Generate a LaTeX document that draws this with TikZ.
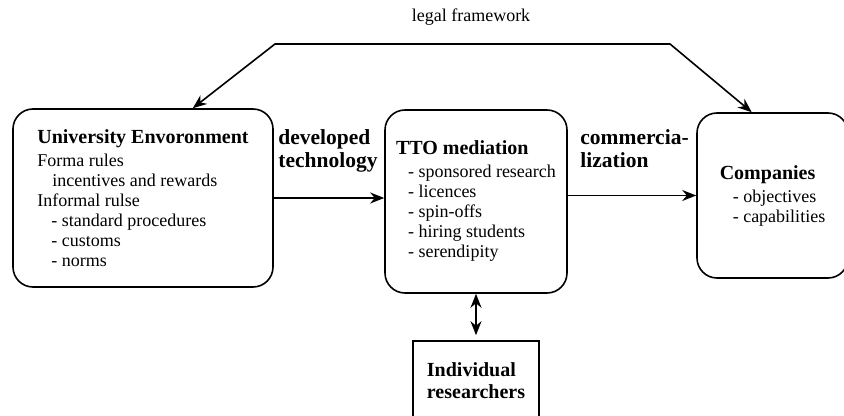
\documentclass[tikz,border=0pt]{standalone}
\usepackage{fontspec}
\setmainfont{Liberation Serif}
\usepackage{tikz}
\usetikzlibrary{arrows.meta}
\tikzstyle{box} = [rectangle, rounded corners=10pt, draw=black, thick, align=left, inner sep=0pt, font=\fontsize{9}{10}\selectfont]
\tikzstyle{arrow} = [thick,->,>={Stealth[length=7pt,width=5.5pt]}]
\tikzstyle{flowlabel} = [anchor=west, align=left, inner sep=0pt, font=\bfseries\fontsize{10.75}{11.5}\selectfont]
\newcommand{\boxtitle}[1]{\textbf{\fontsize{10}{10}\selectfont #1}}

\begin{document}
\begin{tikzpicture}[x=0.5pt, y=-0.5pt]
\useasboundingbox (0,0) rectangle (844,416);

% Nodes
\node (uni) [box, minimum width=130pt, minimum height=89pt] at (143,198) {\boxtitle{University Envoronment}\\[1.5pt]
  Forma rules\\
  \hspace*{7.5pt}incentives and rewards\\
  Informal rulse\\
  \hspace*{7pt}- standard procedures\\
  \hspace*{7pt}- customs\\
  \hspace*{7pt}- norms}; % left
\node (tto) [box, minimum width=91pt, minimum height=91.5pt] at (476,201.5) {\boxtitle{TTO mediation}\\[1.5pt]
  \hspace*{6pt}- sponsored research\\
  \hspace*{6pt}- licences\\
  \hspace*{6pt}- spin-offs\\
  \hspace*{6pt}- hiring students\\
  \hspace*{6pt}- serendipity}; % middle
\node (comp) [box, minimum width=75.5pt, minimum height=82.5pt] at (772.5,195.5) {\boxtitle{Companies}\\[1.5pt]
  \hspace*{6.5pt}- objectives\\
  \hspace*{6.5pt}- capabilities}; % right
\node (ind) [box, sharp corners, minimum width=63pt, minimum height=40pt, font=\bfseries\fontsize{10}{11}\selectfont] at (476,381) {Individual\\ researchers}; % bottom

% Labels
\node (devtech) [flowlabel] at (278,151) {developed\\ technology};
\node (comm) [flowlabel] at (580,149) {commercia-\\ lization};
\node (legal) [font=\fontsize{9}{10}\selectfont] at (471,17) {legal framework};

\coordinate (legalL) at (275,44);
\coordinate (legalR) at (670,44);

% Arrows
\draw [arrow, <->] (uni.61) -- (legalL) -- (legalR) -- (comp.104);
\draw [arrow] (uni.east) -- (uni.east -| tto.west);
\draw [arrow] (tto.east |- comp.west) -- (comp.west);
\draw [arrow, <->, shorten >=2.5pt] (tto.south) -- (ind.north);

\end{tikzpicture}
\end{document}
